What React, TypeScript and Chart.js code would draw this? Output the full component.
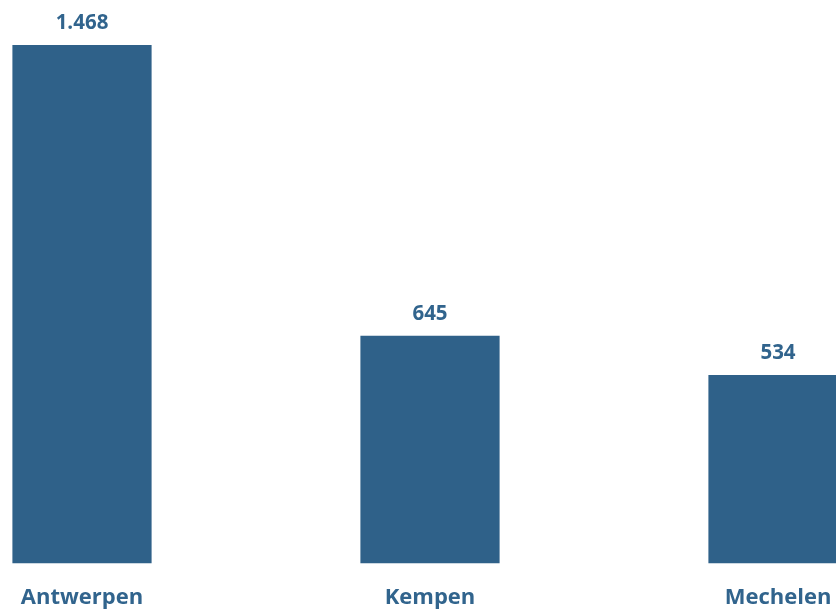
import React, { useEffect, useRef } from "react";
import { Chart, registerables } from "chart.js";

Chart.register(...registerables);

const categories = ["Antwerpen", "Kempen", "Mechelen"];
const values = [1468, 645, 534];
const valueLabels = ["1.468", "645", "534"];

const COLOR = "#2F6189";
const TEXT = "#31648D";
const FONT = "'Open Sans', sans-serif";

const labelPlugin = {
  id: "valueLabels",
  afterDatasetsDraw(chart: any) {
    const ctx = chart.ctx;
    const meta = chart.getDatasetMeta(0);
    ctx.save();
    ctx.fillStyle = TEXT;
    ctx.font = `bold 20.5px ${FONT}`;
    ctx.textAlign = "center";
    ctx.textBaseline = "middle";
    meta.data.forEach((bar: any, i: number) => {
      ctx.fillText(valueLabels[i], bar.x, bar.y - 22);
    });
    ctx.restore();
  },
};

export default function App() {
  const ref = useRef<HTMLCanvasElement>(null);
  useEffect(() => {
    if (!ref.current) return;
    const chart = new Chart(ref.current, {
      type: "bar",
      data: {
        labels: categories,
        datasets: [
          {
            data: values,
            backgroundColor: COLOR,
            barPercentage: 0.4,
            categoryPercentage: 1,
          },
        ],
      },
      options: {
        animation: false,
        responsive: false,
        maintainAspectRatio: false,
        layout: { padding: 0 },
        plugins: { legend: { display: false }, tooltip: { enabled: false } },
        scales: {
          x: {
            grid: { display: false },
            border: { display: false },
            ticks: {
              color: TEXT,
              font: { family: FONT, size: 22, weight: "bold" },
              padding: 13,
            },
          },
          y: {
            display: false,
            min: 0,
            max: 1595,
          },
        },
      },
      plugins: [labelPlugin],
    });
    return () => chart.destroy();
  }, []);
  return (
    <div style={{ position: "fixed", left: 0, top: 0, width: 836, height: 610, overflow: "hidden", background: "#fff" }}>
      <canvas
        ref={ref}
        width={1044}
        height={624}
        style={{ position: "absolute", left: -92.5, top: 0, width: 1044, height: 624 }}
      />
    </div>
  );
}
